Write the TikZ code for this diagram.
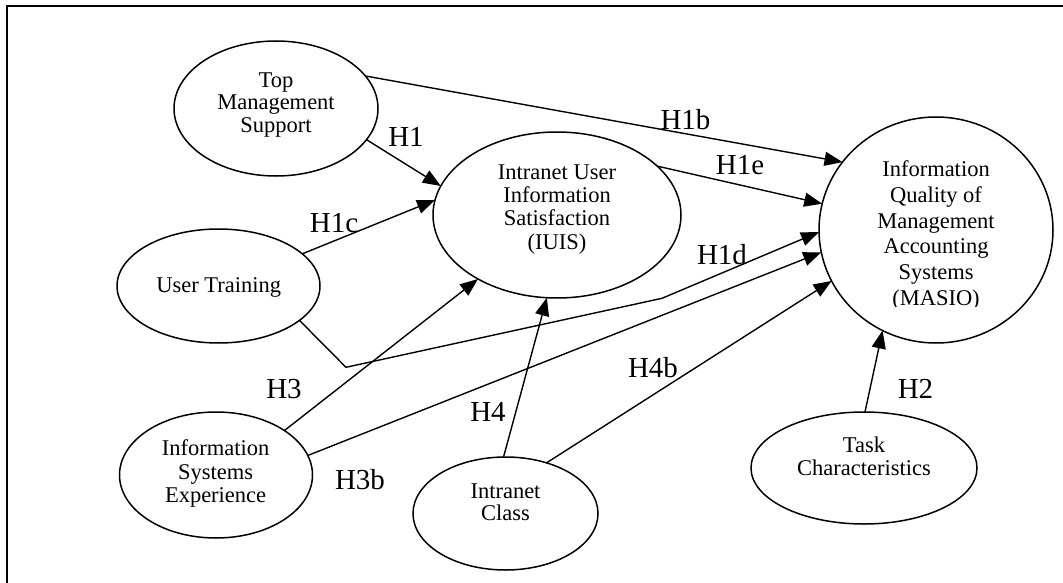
\documentclass[tikz,border=0pt]{standalone}
\usepackage{fontspec}
\setmainfont{Liberation Serif}
\usetikzlibrary{shapes.geometric,arrows.meta}
\tikzset{
  ell/.style={draw, ellipse, line width=1.5pt, inner sep=0pt, outer sep=0pt},
  txt/.style={align=center, inner sep=0pt, font=\fontsize{22.5}{23}\selectfont},
  hyp/.style={inner sep=0pt, font=\fontsize{29}{30}\selectfont},
  arr/.style={line width=1.4pt, -{Triangle[length=18pt,width=14pt]}},
}
\begin{document}
\begin{tikzpicture}[x=1pt,y=-1pt]
\useasboundingbox (0,0) rectangle (1063,583);
\clip (0,0) rectangle (1063,583);
\draw[line width=2pt] (7,600) -- (7,6) -- (1080,6);

% ellipses
\node[ell, minimum width=204pt, minimum height=135pt] (tms) at (276,108.5) {};
\node[ell, minimum width=248pt, minimum height=166pt] (iuis) at (557,215) {};
\node[ell, minimum width=234pt, minimum height=226pt] (masio) at (936,230) {};
\node[ell, minimum width=203pt, minimum height=114pt] (ut) at (218.5,286) {};
\node[ell, minimum width=193pt, minimum height=126pt] (ise) at (216,475) {};
\node[ell, minimum width=185pt, minimum height=113pt] (ic) at (505.5,513.5) {};
\node[ell, minimum width=226pt, minimum height=112pt] (task) at (864,468) {};

% texts
\node[txt, font=\fontsize{22.5}{22.5}\selectfont] (tms-t) at (276,104.6) {Top\\Management\\Support};
\node[txt, font=\fontsize{22.5}{23.3}\selectfont] (iuis-t) at (557,209.3) {Intranet User\\Information\\Satisfaction\\(IUIS)};
\begin{scope}
\clip (800,0) rectangle (1063,306);
\node[txt, font=\fontsize{22.5}{25.8}\selectfont] (masio-t) at (936,235.5) {Information\\Quality of\\Management\\Accounting\\Systems\\(MASIO)};
\end{scope}
\node[txt] (ut-t) at (218.7,287.7) {User Training};
\node[txt, font=\fontsize{22.5}{23.8}\selectfont] (ise-t) at (215.6,473.6) {Information\\Systems\\Experience};
\node[txt, font=\fontsize{22.5}{21.7}\selectfont] (ic-t) at (505.5,502.2) {Intranet\\Class};
\node[txt, font=\fontsize{22.5}{23.4}\selectfont] (task-t) at (864,456.3) {Task\\Characteristics};

% connectors
\coordinate (b1) at (346,367.3);
\coordinate (b2) at (662,298.3);
\draw[arr] (tms.20.45) -- (masio.144.1);
\draw[arr] (tms.-19.7) -- (iuis.166.8);
\draw[arr] (ut.21.6) -- (iuis.173.1);
\draw[arr] (iuis.26.1) -- (masio.167);
\draw[arr] (ut.-23.6) -- (b1) -- (b2) -- (masio.181);
\draw[arr] (ise.33.4) -- (iuis.219.5);
\draw[arr] (ise.12.1) -- (masio.191.1);
\draw[arr] (ic.92.1) -- (iuis.263.7);
\draw[arr] (ic.51.5) -- (masio.206.1);
\draw[arr] (task.89.5) -- (masio.242.5);

% labels
\node[hyp] (l1) at (406,136.8) {H1};
\node[hyp] (l1c) at (334,222.8) {H1c};
\node[hyp] (l1b) at (685.5,119.4) {H1b};
\node[hyp] (l1e) at (740,165) {H1e};
\node[hyp] (l1d) at (722,254.4) {H1d};
\node[hyp] (l3) at (284,389) {H3};
\node[hyp] (l3b) at (360,480) {H3b};
\node[hyp] (l4) at (488,411.8) {H4};
\node[hyp] (l4b) at (653,367.4) {H4b};
\node[hyp] (l2) at (915.5,389) {H2};
\end{tikzpicture}
\end{document}
